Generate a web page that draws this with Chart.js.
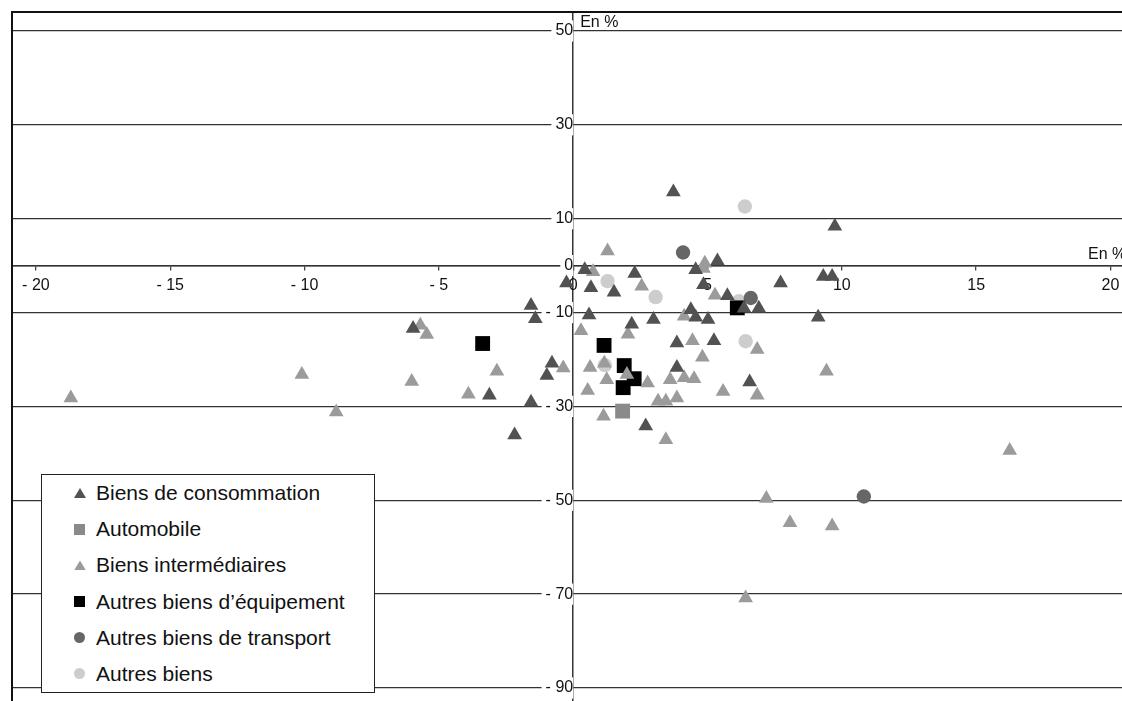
<!DOCTYPE html>
<html>
<head>
<meta charset="utf-8">
<title>Nuage de points</title>
<script src="https://cdn.jsdelivr.net/npm/chart.js@4.4.0/dist/chart.umd.min.js"></script>
<style>
  html, body { margin: 0; padding: 0; background: #fff; }
  #wrap { position: relative; width: 1122px; height: 701px; }
  #legend {
    position: absolute; left: 41px; top: 474px; width: 334px; height: 219px;
    box-sizing: border-box; border: 1.5px solid #222; background: #fff;
    font-family: "Liberation Sans", Arial, sans-serif; font-size: 21px; color: #111;
  }
  .item { position: relative; height: 36.2px; line-height: 36.2px; padding-left: 54px; white-space: nowrap; }
  .mk { position: absolute; left: 32px; top: 12.5px; width: 11px; height: 11px; }
  .mk.triangle { width: 12px; height: 10px; top: 13px; clip-path: polygon(50% 0, 100% 100%, 0 100%); }
  .mk.circle { border-radius: 50%; }
</style>
</head>
<body>
<div id="wrap">
  <canvas id="myChart"></canvas>
  <div id="legend"></div>
</div>
<script>
// series names, in the legend's order
const seriesNames = [
  'Biens de consommation',
  'Automobile',
  'Biens intermédiaires',
  'Autres biens d\u2019équipement',
  'Autres biens de transport',
  'Autres biens'
];

// [x, y] in %
const biensConso = [
  [3.73, 15.7], [9.74, 8.4], [-5.96, -13.4], [-1.57, -8.5], [-1.41, -11.3], [-0.79, -20.8],
  [-0.98, -23.4], [-3.12, -27.6], [-1.57, -29.1], [-2.18, -36.1], [-0.25, -3.7], [0.43, -0.9],
  [0.66, -4.7], [1.52, -5.7], [2.29, -1.7], [0.59, -10.5], [2.18, -12.5], [2.99, -11.5],
  [4.56, -0.9], [5.37, 1.0], [4.85, -4.1], [5.74, -6.4], [4.38, -9.4], [4.56, -11.0],
  [5.02, -11.5], [3.86, -16.5], [5.24, -16.0], [3.86, -21.7], [6.57, -24.8], [2.70, -34.2],
  [6.36, -9.1], [6.91, -9.1], [7.72, -3.7], [9.31, -2.3], [9.64, -2.3], [9.12, -11.0]
];
const automobile = [[1.84, -31.0]];
const biensInter = [
  [-18.7, -28.2], [-10.1, -23.2], [-8.82, -31.2], [-5.69, -12.7], [-5.45, -14.7], [-6.01, -24.7],
  [-3.90, -27.4], [-2.84, -22.5], [-0.37, -21.8], [1.28, 3.1], [0.74, -1.3], [2.55, -4.4],
  [0.29, -13.9], [2.04, -14.6], [0.63, -21.7], [1.16, -20.8], [0.54, -26.6], [1.25, -24.3],
  [2.0, -23.2], [2.77, -25.0], [1.13, -32.1], [3.16, -28.9], [3.45, -28.9], [3.86, -28.2],
  [3.45, -37.1], [3.61, -24.3], [4.13, -23.9], [4.50, -24.1], [4.44, -16.0], [4.81, -19.5],
  [4.13, -10.8], [4.90, 0.5], [4.85, -0.6], [5.28, -6.3], [5.58, -26.8], [6.85, -17.9],
  [6.85, -27.6], [9.43, -22.5], [16.25, -39.4], [7.19, -49.6], [8.07, -54.8], [9.64, -55.5],
  [6.42, -70.8]
];
const autresEquip = [[-3.37, -16.6], [1.15, -17.0], [1.90, -21.3], [2.27, -24.1], [1.86, -26.0], [6.11, -9.0]];
const autresTransport = [[4.09, 2.8], [6.61, -6.9], [10.82, -49.2]];
const autresBiens = [[6.39, 12.6], [1.28, -3.3], [3.07, -6.7], [6.17, -7.6], [6.42, -16.1], [1.18, -21.2]];

const xTickValues = [-20, -15, -10, -5, 0, 5, 10, 15, 20];
const xTickLabels = ['- 20', '- 15', '- 10', '- 5', '0', '5', '10', '15', '20'];
const yTickValues = [50, 30, 10, 0, -10, -30, -50, -70, -90];
const yTickLabels = ['50', '30', '10', '0', '- 10', '- 30', '- 50', '- 70', '- 90'];
const unitLabel = 'En %';

const FONT = '"Liberation Sans", Arial, sans-serif';

const styles = [
  { shape: 'triangle', color: '#525252', radius: 8.5 },
  { shape: 'rect', color: '#8a8a8a', radius: 10.5 },
  { shape: 'triangle', color: '#9b9b9b', radius: 8.5 },
  { shape: 'rect', color: '#000000', radius: 10.5 },
  { shape: 'circle', color: '#666666', radius: 7.2 },
  { shape: 'circle', color: '#cdcdcd', radius: 7.2 }
];
const seriesData = [biensConso, automobile, biensInter, autresEquip, autresTransport, autresBiens];

const datasets = seriesNames.map((name, i) => ({
  label: name,
  data: seriesData[i].map(p => ({ x: p[0], y: p[1] })),
  pointStyle: styles[i].shape,
  pointRadius: styles[i].radius,
  pointHoverRadius: styles[i].radius,
  backgroundColor: styles[i].color,
  borderColor: styles[i].color,
  borderWidth: 0
}));

// axes sit in the middle: their labels must not shrink the plot area
const noPadding = s => { s.paddingLeft = 0; s.paddingRight = 0; s.paddingTop = 0; s.paddingBottom = 0; };

// frame on top and left, plus the "En %" notes
const framePlugin = {
  id: 'frame',
  afterDraw(chart) {
    const { ctx, chartArea, scales } = chart;
    ctx.save();
    ctx.strokeStyle = '#111';
    ctx.lineWidth = 2;
    ctx.beginPath();
    ctx.moveTo(chartArea.left, chartArea.bottom);
    ctx.lineTo(chartArea.left, chartArea.top);
    ctx.lineTo(chartArea.right, chartArea.top);
    ctx.stroke();
    ctx.fillStyle = '#111';
    ctx.font = '16px ' + FONT;
    ctx.textAlign = 'left';
    ctx.textBaseline = 'middle';
    ctx.fillText(unitLabel, scales.x.getPixelForValue(0) + 7, chartArea.top + 10.5);
    ctx.fillText(unitLabel, chartArea.right - 34, scales.y.getPixelForValue(0) - 11);
    ctx.restore();
  }
};

const ctx = document.getElementById('myChart').getContext('2d');
const myChart = new Chart(ctx, {
  type: 'scatter',
  data: { datasets: datasets },
  plugins: [framePlugin],
  options: {
    responsive: true,
    maintainAspectRatio: false,
    animation: false,
    events: [],
    layout: { autoPadding: false, padding: { left: 12, top: 12, right: 0, bottom: 0 } },
    plugins: { legend: { display: false }, tooltip: { enabled: false } },
    scales: {
      x: {
        type: 'linear',
        position: { y: 0 },
        min: -20.89,
        max: 20.43,
        afterBuildTicks: s => { s.ticks = xTickValues.map(v => ({ value: v })); },
        afterFit: noPadding,
        ticks: {
          autoSkip: false, maxRotation: 0, padding: 6, color: '#111',
          font: { family: FONT, size: 16 },
          callback: v => xTickLabels[xTickValues.indexOf(v)]
        },
        grid: { drawOnChartArea: false, drawTicks: true, tickLength: 4, color: '#444', lineWidth: 1.3 },
        border: { color: '#333', width: 1.5, z: -1 }
      },
      y: {
        type: 'linear',
        position: { x: 0 },
        min: -92.77,
        max: 54.04,
        afterBuildTicks: s => { s.ticks = yTickValues.map(v => ({ value: v })); },
        afterFit: noPadding,
        ticks: {
          autoSkip: false, padding: 0, color: '#111',
          font: { family: FONT, size: 16 },
          showLabelBackdrop: true, backdropColor: '#fff',
          backdropPadding: { left: 4, right: 0, top: 1, bottom: 1 },
          callback: v => yTickLabels[yTickValues.indexOf(v)]
        },
        grid: { color: '#333', lineWidth: 1.3, drawTicks: true, tickLength: 7 },
        border: { color: '#333', width: 1.5, z: -1 }
      }
    }
  }
});

// legend box, built from the datasets
const legendEl = document.getElementById('legend');
datasets.forEach((ds, i) => {
  const row = document.createElement('div');
  row.className = 'item';
  const mk = document.createElement('span');
  mk.className = 'mk ' + styles[i].shape;
  mk.style.background = styles[i].color;
  row.appendChild(mk);
  row.appendChild(document.createTextNode(ds.label));
  legendEl.appendChild(row);
});
</script>
</body>
</html>
